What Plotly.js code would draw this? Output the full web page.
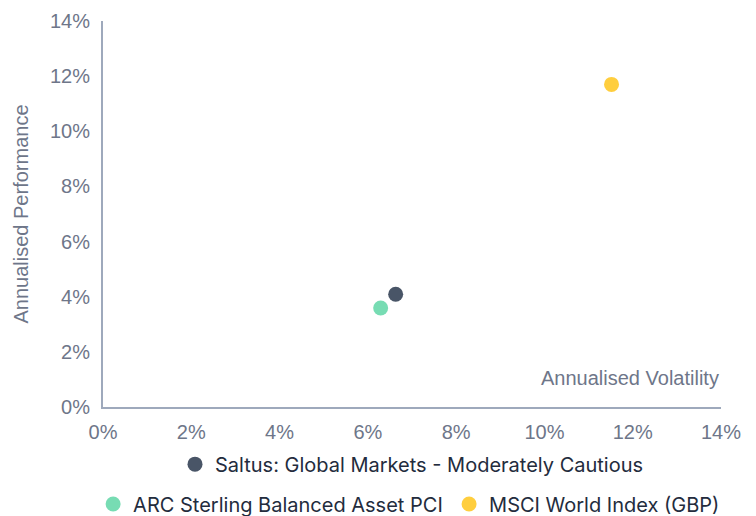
<!DOCTYPE html>
<html>
<head>
<meta charset="utf-8">
<script src="https://cdn.plot.ly/plotly-3.0.1.min.js"></script>
<style>html,body{margin:0;padding:0;background:#fff;}#chart{width:756px;height:516px;}</style>
</head>
<body>
<div id="chart"></div>
<script>
const seriesNames = ["Saltus: Global Markets - Moderately Cautious", "ARC Sterling Balanced Asset PCI", "MSCI World Index (GBP)"];
const volatility = [6.63, 6.29, 11.52];
const performance = [4.09, 3.59, 11.7];
const colors = ["#1b2a41", "#55d3a0", "#ffc20e"];
const legendGroups = ["legend", "legend2", "legend3"];
const tickVals = [0, 2, 4, 6, 8, 10, 12, 14];
const tickText = ["0%", "2%", "4%", "6%", "8%", "10%", "12%", "14%"];

const traces = seriesNames.map((n, i) => ({
  type: "scatter", mode: "markers", name: n, legend: legendGroups[i],
  x: [volatility[i]], y: [performance[i]],
  marker: {size: 15, color: colors[i], opacity: 0.8}
}));

const axisFont = {family: "Liberation Sans, Arial, sans-serif", size: 20, color: "#6e7689"};
const legendFont = {family: "Inter, Liberation Sans, Arial, sans-serif", size: 20, color: "#232c3d"};
const layout = {
  width: 756, height: 516,
  margin: {l: 103, r: 35, t: 21, b: 109, autoexpand: false},
  paper_bgcolor: "#fff", plot_bgcolor: "#fff",
  showlegend: true,
  xaxis: {range: [0, 14], tickvals: tickVals, ticktext: tickText, showgrid: false, zeroline: false,
    showline: true, linecolor: "#9ea9bc", linewidth: 2, ticks: "", tickfont: axisFont, ticklabelstandoff: 6},
  yaxis: {range: [0, 14], tickvals: tickVals, ticktext: tickText, showgrid: false, zeroline: false,
    showline: true, linecolor: "#9ea9bc", linewidth: 2, ticks: "", tickfont: axisFont, ticklabelstandoff: 7,
    title: {text: "Annualised Performance", font: axisFont, standoff: 16}},
  annotations: [{text: "Annualised Volatility", xref: "paper", yref: "paper", x: 1, y: 0.075,
    xanchor: "right", yanchor: "middle", showarrow: false, font: axisFont}],
  legend: {orientation: "h", x: 0.5, xanchor: "center", y: -0.148, yanchor: "middle", font: legendFont},
  legend2: {orientation: "h", x: -0.016, xanchor: "left", y: -0.2513, yanchor: "middle", font: legendFont},
  legend3: {orientation: "h", x: 0.56, xanchor: "left", y: -0.2513, yanchor: "middle", font: legendFont}
};
Plotly.newPlot("chart", traces, layout, {displayModeBar: false});
</script>
</body>
</html>
